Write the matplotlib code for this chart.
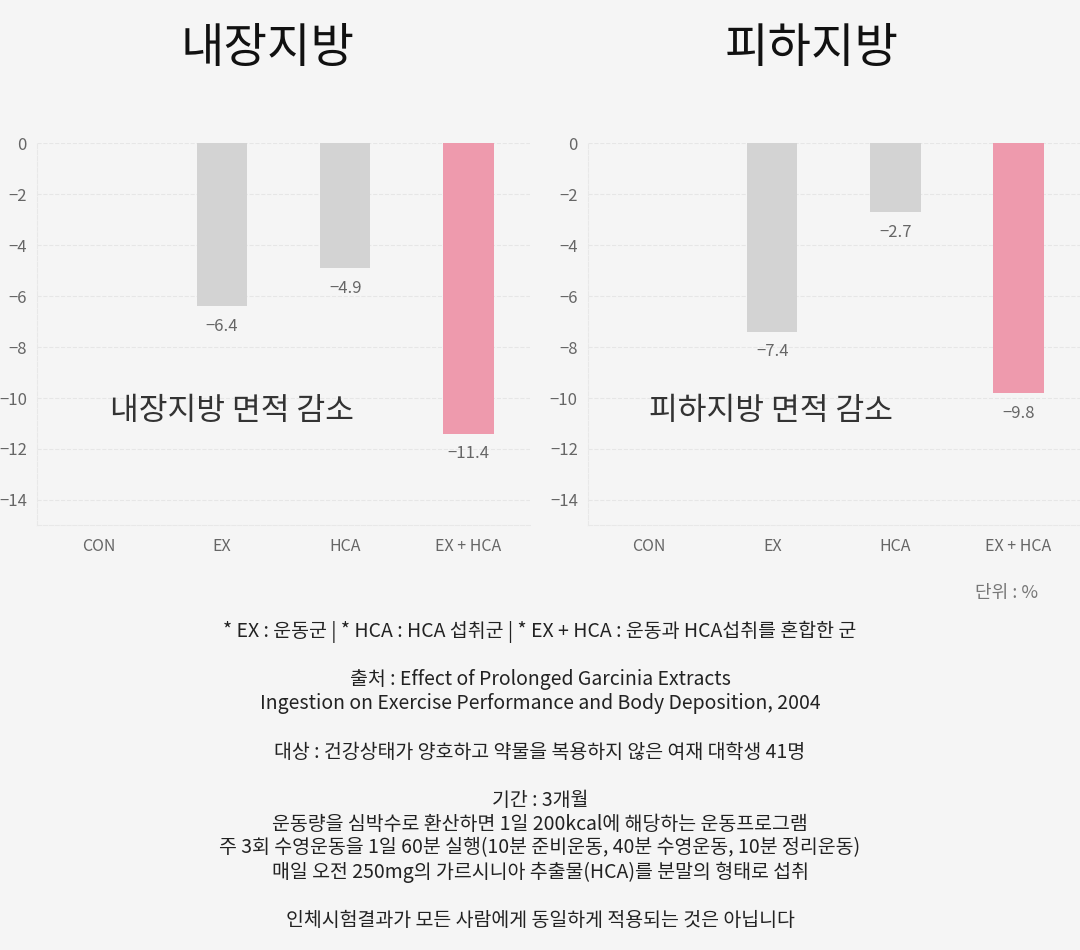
import matplotlib
matplotlib.use("Agg")
import matplotlib.pyplot as plt
from matplotlib.ticker import MultipleLocator

plt.rcParams["font.family"] = ["Noto Sans CJK KR", "DejaVu Sans"]

categories = ["CON", "EX", "HCA", "EX + HCA"]
visceral = [0, -6.4, -4.9, -11.4]
subcutaneous = [0, -7.4, -2.7, -9.8]
bar_colors = ["#d3d3d3", "#d3d3d3", "#d3d3d3", "#ee9aad"]

titles = ["내장지방", "피하지방"]
notes = ["내장지방 면적 감소", "피하지방 면적 감소"]

footer_lines = [
    "* EX : 운동군 | * HCA : HCA 섭취군 | * EX + HCA : 운동과 HCA섭취를 혼합한 군",
    "",
    "출처 : Effect of Prolonged Garcinia Extracts",
    "Ingestion on Exercise Performance and Body Deposition, 2004",
    "",
    "대상 : 건강상태가 양호하고 약물을 복용하지 않은 여재 대학생 41명",
    "",
    "기간 : 3개월",
    "운동량을 심박수로 환산하면 1일 200kcal에 해당하는 운동프로그램",
    "주 3회 수영운동을 1일 60분 실행(10분 준비운동, 40분 수영운동, 10분 정리운동)",
    "매일 오전 250mg의 가르시니아 추출물(HCA)를 분말의 형태로 섭취",
    "",
    "인체시험결과가 모든 사람에게 동일하게 적용되는 것은 아닙니다",
]

bg = "#f5f5f5"
fig = plt.figure(figsize=(10.8, 9.5), dpi=100, facecolor=bg)

axes_pos = [[0.034, 0.447, 0.457, 0.402], [0.544, 0.447, 0.456, 0.402]]
title_x = [0.248, 0.752]

for i, values in enumerate([visceral, subcutaneous]):
    ax = fig.add_axes(axes_pos[i])
    ax.set_facecolor(bg)
    x = list(range(len(categories)))
    ax.bar(x, values, width=0.41, color=bar_colors, zorder=2)
    for xi, v in zip(x, values):
        if v == 0:
            continue
        ax.annotate(f"{v:.1f}".replace("-", "\u2212"), (xi, v),
                    xytext=(0, -14.5), textcoords="offset points",
                    ha="center", va="center", fontsize=12, color="#666666")
    ax.set_xlim(-0.5, 3.5)
    ax.set_ylim(-15, 0)
    ax.yaxis.set_major_locator(MultipleLocator(2))
    ax.set_xticks(x)
    ax.set_xticklabels(categories)
    ax.tick_params(axis="x", length=0, pad=9, labelsize=11.5, labelcolor="#666666")
    ax.tick_params(axis="y", length=0, pad=7, labelsize=12, labelcolor="#666666")
    ax.grid(axis="y", color="#e6e6e6", linestyle="--", linewidth=0.8, zorder=0)
    for side in ["top", "right"]:
        ax.spines[side].set_visible(False)
    for side in ["left", "bottom"]:
        ax.spines[side].set_color("#e8e8e8")
        ax.spines[side].set_linestyle("--")
        ax.spines[side].set_linewidth(0.8)
    ax.text(1.08 if i == 0 else 0.99, -10.5, notes[i], ha="center", va="center",
            fontsize=22.5, color="#333333", fontweight="medium", zorder=3)
    fig.text(title_x[i], 0.949, titles[i], ha="center", va="center",
             fontsize=34, color="#111111")

fig.text(0.961, 1 - 593 / 950, "단위 : %", ha="right", va="center",
         fontsize=13, color="#777777")

y0 = 632
for k, line in enumerate(footer_lines):
    if line:
        fig.text(0.5, 1 - (y0 + 24 * k) / 950, line, ha="center", va="center",
                 fontsize=14, color="#222222")

fig.savefig("out.png", dpi=100, facecolor=bg)
